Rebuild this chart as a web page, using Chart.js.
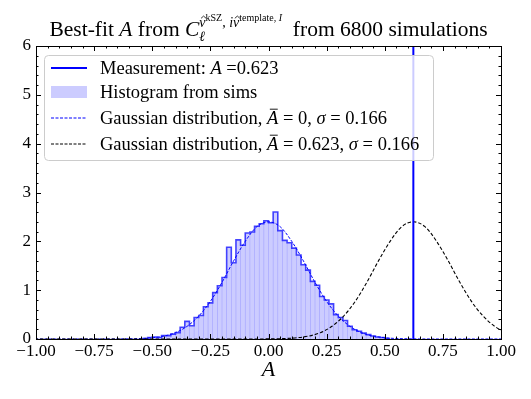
<!DOCTYPE html>
<html>
<head>
<meta charset="utf-8">
<title>Best-fit A from 6800 simulations</title>
<script src="https://cdn.jsdelivr.net/npm/chart.js"></script>
<style>
  body { margin: 0; background: #fff; }
  #wrap { width: 531px; height: 399px; position: relative; }
</style>
</head>
<body>
<div id="wrap"><canvas id="chart"></canvas></div>
<script>
// histogram of the 6800 best-fit values (bin centres, density)
const histCenters = [-0.53, -0.51, -0.49, -0.47, -0.45, -0.43, -0.41, -0.39, -0.37, -0.35,
  -0.33, -0.31, -0.29, -0.27, -0.25, -0.23, -0.21, -0.19, -0.17, -0.15,
  -0.13, -0.11, -0.09, -0.07, -0.05, -0.03, -0.01, 0.01, 0.03, 0.05,
  0.07, 0.09, 0.11, 0.13, 0.15, 0.17, 0.19, 0.21, 0.23, 0.25,
  0.27, 0.29, 0.31, 0.33, 0.35, 0.37, 0.39, 0.41, 0.43, 0.45,
  0.47, 0.49, 0.51];
const histValues = [0.01, 0.03, 0.04, 0.03, 0.07, 0.07, 0.10, 0.13, 0.24, 0.36,
  0.27, 0.44, 0.48, 0.66, 0.74, 0.95, 1.09, 1.26, 1.88, 1.56,
  2.03, 1.92, 2.17, 2.19, 2.31, 2.36, 2.42, 2.38, 2.60, 2.22,
  2.02, 1.97, 1.86, 1.72, 1.52, 1.41, 1.18, 1.10, 0.87, 0.80,
  0.72, 0.50, 0.44, 0.38, 0.26, 0.19, 0.16, 0.12, 0.09, 0.06,
  0.04, 0.03, 0.01];

// gaussian profile (offset from the mean, density)
const gaussOffsets = [-1.70, -0.70, -0.65, -0.60, -0.55, -0.50, -0.45, -0.40, -0.35, -0.30,
  -0.25, -0.20, -0.15, -0.10, -0.05, 0.00, 0.05, 0.10, 0.15, 0.20,
  0.25, 0.30, 0.35, 0.40, 0.45, 0.50, 0.55, 0.60, 0.65, 0.70, 1.70];
const gaussDensity = [0, 0, 0.001, 0.004, 0.010, 0.026, 0.06, 0.13, 0.26, 0.47,
  0.77, 1.16, 1.60, 2.00, 2.30, 2.40, 2.30, 2.00, 1.60, 1.16,
  0.77, 0.47, 0.26, 0.13, 0.06, 0.026, 0.010, 0.004, 0.001, 0, 0];

const measurement = 0.623;
const xTicks = [-1.00, -0.75, -0.50, -0.25, 0.00, 0.25, 0.50, 0.75, 1.00];
const yTicks = [0, 1, 2, 3, 4, 5, 6];

const SERIF = '"Liberation Serif", "DejaVu Serif", serif';
const fillBlue = 'rgba(0, 0, 255, 0.2)';
const stepBlue = 'rgba(0, 0, 255, 0.7)';

const binWidth = histCenters[1] - histCenters[0];
const stepPoints = [{ x: histCenters[0] - binWidth / 2, y: 0 }];
histCenters.forEach((c, i) => stepPoints.push({ x: c - binWidth / 2, y: histValues[i] }));
stepPoints.push({ x: histCenters[histCenters.length - 1] + binWidth / 2, y: 0 });

// draw a run of text pieces (roman / italic / sub / sup)
function drawRich(ctx, segs, x, y, measureOnly) {
  let cx = x;
  segs.forEach(s => {
    ctx.font = (s.it ? 'italic ' : '') + s.size + 'px ' + SERIF;
    const w = ctx.measureText(s.t).width;
    const by = y + (s.dy || 0);
    if (!measureOnly) {
      ctx.fillText(s.t, cx, by);
      if (s.mark === 'hat') {
        const mx = cx + w / 2 + s.size * 0.08, top = by - s.size * 0.62;
        ctx.beginPath();
        ctx.moveTo(mx - s.size * 0.18, top);
        ctx.lineTo(mx, top - s.size * 0.16);
        ctx.lineTo(mx + s.size * 0.18, top);
        ctx.lineWidth = 0.8;
        ctx.stroke();
      } else if (s.mark === 'bar') {
        const top = by - s.size * 0.8;
        ctx.beginPath();
        ctx.moveTo(cx + w * 0.25, top);
        ctx.lineTo(cx + w * 0.95, top);
        ctx.lineWidth = 0.9;
        ctx.stroke();
      }
    }
    if (!s.noAdv) cx += w;
  });
  return cx - x;
}

const titleSegs = [
  { t: 'Best-fit ', size: 21.5 },
  { t: 'A', it: true, size: 21.5 },
  { t: ' from ', size: 21.5 },
  { t: 'C', it: true, size: 21.5 },
  { t: 'ℓ', it: true, size: 14, dy: 5, noAdv: true },
  { t: 'v', it: true, size: 14, dy: -9, mark: 'hat' },
  { t: 'kSZ', size: 10, dy: -15 },
  { t: ', ', size: 14, dy: -9 },
  { t: 'i', it: true, size: 14, dy: -9 },
  { t: 'v', it: true, size: 14, dy: -9, mark: 'hat' },
  { t: 'template, ', size: 10, dy: -15 },
  { t: 'I', it: true, size: 10, dy: -15 },
  { t: '  from 6800 simulations', size: 21.5 }
];

const LS = 18.5;
const legendRows = [
  [{ t: 'Measurement: ', size: LS }, { t: 'A', it: true, size: LS }, { t: ' =0.623', size: LS }],
  [{ t: 'Histogram from sims', size: LS }],
  [{ t: 'Gaussian distribution, ', size: LS }, { t: 'A', it: true, size: LS, mark: 'bar' },
   { t: ' = 0, ', size: LS }, { t: 'σ', it: true, size: LS }, { t: ' = 0.166', size: LS }],
  [{ t: 'Gaussian distribution, ', size: LS }, { t: 'A', it: true, size: LS, mark: 'bar' },
   { t: ' = 0.623, ', size: LS }, { t: 'σ', it: true, size: LS }, { t: ' = 0.166', size: LS }]
];

const decor = {
  id: 'decor',
  afterDatasetsDraw(chart) {
    const { ctx, chartArea: a, scales: { x, y } } = chart;
    ctx.save();
    ctx.strokeStyle = '#000';
    ctx.lineWidth = 1;
    // inward ticks, all four sides
    ctx.beginPath();
    for (let k = -20; k <= 20; k++) {
      const px = Math.round(x.getPixelForValue(k * 0.05)) + 0.5;
      const len = k % 5 === 0 ? 5 : 2.5;
      ctx.moveTo(px, a.bottom); ctx.lineTo(px, a.bottom - len);
      ctx.moveTo(px, a.top); ctx.lineTo(px, a.top + len);
    }
    for (let k = 0; k <= 30; k++) {
      const py = Math.round(y.getPixelForValue(k * 0.2)) + 0.5;
      const len = k % 5 === 0 ? 5 : 2.5;
      ctx.moveTo(a.left, py); ctx.lineTo(a.left + len, py);
      ctx.moveTo(a.right, py); ctx.lineTo(a.right - len, py);
    }
    ctx.stroke();
    ctx.strokeRect(Math.round(a.left) + 0.5, Math.round(a.top) + 0.5,
      Math.round(a.right - a.left), Math.round(a.bottom - a.top));

    // legend
    const lx = 44.5, ly = 55.5, lw = 389, lh = 105;
    ctx.beginPath();
    ctx.roundRect(lx, ly, lw, lh, 4);
    ctx.fillStyle = 'rgba(255,255,255,0.8)';
    ctx.fill();
    ctx.strokeStyle = '#cccccc';
    ctx.stroke();
    const rowY = [68, 92, 118, 144];
    ctx.beginPath();
    ctx.strokeStyle = '#0000ff'; ctx.lineWidth = 2;
    ctx.moveTo(51, rowY[0]); ctx.lineTo(87, rowY[0]); ctx.stroke();
    ctx.fillStyle = fillBlue;
    ctx.fillRect(51, rowY[1] - 6, 36, 12);
    ctx.setLineDash([3, 1.5]); ctx.lineWidth = 1;
    ctx.beginPath(); ctx.strokeStyle = '#0000ff';
    ctx.moveTo(51, rowY[2]); ctx.lineTo(87, rowY[2]); ctx.stroke();
    ctx.beginPath(); ctx.strokeStyle = '#000';
    ctx.moveTo(51, rowY[3]); ctx.lineTo(87, rowY[3]); ctx.stroke();
    ctx.setLineDash([]);
    ctx.fillStyle = '#000'; ctx.strokeStyle = '#000';
    ctx.textBaseline = 'alphabetic';
    legendRows.forEach((r, i) => drawRich(ctx, r, 100, rowY[i] + 6));

    // title
    const tw = drawRich(ctx, titleSegs, 0, 0, true);
    drawRich(ctx, titleSegs, (a.left + a.right) / 2 - tw / 2, 36);
    ctx.restore();
  }
};

new Chart(document.getElementById('chart'), {
  type: 'line',
  data: {
    datasets: [
      {
        type: 'line', label: 'Measurement',
        data: [{ x: measurement, y: 0 }, { x: measurement, y: 6 }],
        borderColor: '#0000ff', borderWidth: 2, pointRadius: 0, order: 1
      },
      {
        type: 'bar', label: 'Histogram from sims',
        data: histCenters.map((c, i) => ({ x: c, y: histValues[i] })),
        backgroundColor: fillBlue, borderWidth: 0,
        barPercentage: 1, categoryPercentage: 1, order: 5
      },
      {
        type: 'line', label: 'sims step',
        data: stepPoints, stepped: 'before',
        borderColor: stepBlue, borderWidth: 1.6, pointRadius: 0, fill: false, order: 4
      },
      {
        type: 'line', label: 'Gaussian mean 0',
        data: gaussOffsets.map((o, i) => ({ x: o, y: gaussDensity[i] })),
        borderColor: '#0000ff', borderWidth: 1, borderDash: [3, 1.5],
        pointRadius: 0, cubicInterpolationMode: 'monotone', order: 3
      },
      {
        type: 'line', label: 'Gaussian mean 0.623',
        data: gaussOffsets.map((o, i) => ({ x: o + measurement, y: gaussDensity[i] })),
        borderColor: '#000', borderWidth: 1.1, borderDash: [3.5, 2],
        pointRadius: 0, cubicInterpolationMode: 'monotone', order: 2
      }
    ]
  },
  options: {
    responsive: true,
    maintainAspectRatio: false,
    animation: false,
    layout: { padding: { top: 46, right: 30, left: 0, bottom: 0 } },
    plugins: { legend: { display: false }, tooltip: { enabled: false }, title: { display: false } },
    scales: {
      x: {
        type: 'linear', min: -1, max: 1, offset: false,
        afterBuildTicks: s => { s.ticks = xTicks.map(v => ({ value: v })); },
        afterFit: s => { s.height = 60; },
        grid: { display: false, drawTicks: false, offset: false }, border: { display: false },
        ticks: {
          color: '#000', padding: 2, maxRotation: 0,
          font: { family: SERIF, size: 17 },
          callback: v => (v < 0 ? '\u2212' : '') + Math.abs(v).toFixed(2)
        },
        title: {
          display: true, text: 'A', color: '#000',
          font: { family: SERIF, size: 22, style: 'italic' },
          padding: { top: 0, bottom: 16 }
        }
      },
      y: {
        min: 0, max: 6,
        afterBuildTicks: s => { s.ticks = yTicks.map(v => ({ value: v })); },
        afterFit: s => { s.width = 36; },
        grid: { display: false, drawTicks: false }, border: { display: false },
        ticks: { color: '#000', padding: 5, font: { family: SERIF, size: 17 } }
      }
    }
  },
  plugins: [decor]
});
</script>
</body>
</html>
